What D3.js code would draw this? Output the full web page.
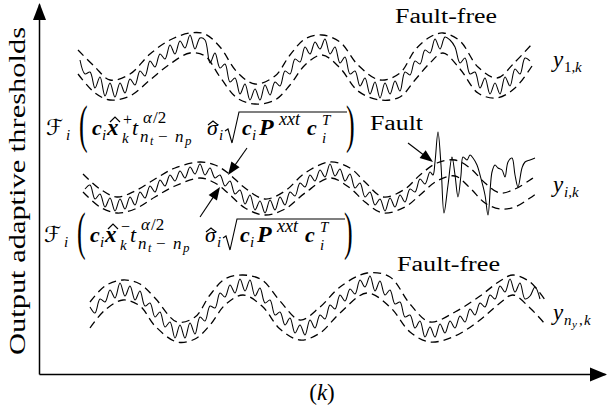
<!DOCTYPE html>
<html><head><meta charset="utf-8">
<script src="https://cdn.jsdelivr.net/npm/d3@7"></script>
<style>body{margin:0;background:#fff;} svg{display:block;}</style>
</head><body>
<svg id="chart" width="607" height="415"></svg>
<script>
// ---------- DATA (k = time index, values = output amplitude) ----------
const kStep = 5;
// y_{1,k} measured output (fault-free)
const topStartK = 41;
const topSignal = [314,300,302,286,297,278,291,277,291,281,
  295,289,303,298,313,307,320,315,329,320,
  333,326,339,325,336,334,311,321,306,310,
  292,296,280,290,274,285,274,289,279,292,
  288,303,300,315,312,327,320,332,325,335,
  320,327,311,317,300,303,288,296,280,292,
  276,291,280,293,283,302,299,313,310,324,
  321,335,325,337,334,327,311,316,300,302,
  286,296,280,291,280,297,288,305,300,316,
  313];
// adaptive thresholds for y_{1,k}
const topBandK = [39,56,71,91,111,131,151,166,181,198,216,236,251,266,283,301,319,341,361,376,391,404,421,439,458,476,493];
const topUpper = [324,307,294,300,320,334,341,340,327,302,290,298,319,335,339,332,309,294,301,324,337,341,333,307,296,312,330];
const topLower = [300,281,274,278,294,310,321,318,297,276,270,274,289,309,319,306,283,274,277,294,311,321,305,281,276,286,308];

// y_{i,k} measured output (fault appears near the end)
const midStartK = 46;
const midSignal = [185,189,175,180,167,176,163,175,165,177,
  169,182,176,188,182,194,188,199,193,203,
  196,207,200,210,199,206,196,199,188,193,
  180,184,170,179,164,173,161,174,164,177,
  169,182,178,191,187,199,193,204,197,210,
  198,205,193,200,186,191,177,182,169,175,
  163,176,167,179,172,185,182,195,190,202];
const faultK = [394,396,399,402,405,409,413,416,419,422,424,428,431,434,438,441,446,449,453,456,459,463,466,469,473,476,479,483,486,491,496];
const faultV = [199,212,242,209,161,189,217,199,177,199,217,214,219,216,209,199,179,159,202,209,206,204,197,212,216,199,187,206,212,214,216];
const midBandK = [44,61,78,96,116,136,161,176,189,206,226,246,266,291,311,326,344,366,381,398,416,431,446,461,476,491,498];
const midUpper = [200,185,177,183,195,206,212,209,201,186,175,183,201,212,206,192,177,185,199,211,214,206,191,181,185,194,199];
const midLower = [182,167,161,165,177,188,196,191,181,166,159,165,181,196,186,172,161,167,179,193,198,186,171,165,167,176,181];

// y_{ny,k} measured output (fault-free)
const botStartK = 51;
const botSignal = [67,61,75,72,84,76,91,78,88,74,
  83,68,71,57,62,47,52,36,49,36,
  51,40,57,53,68,66,81,77,89,81,
  95,83,94,78,86,71,74,59,62,49,
  56,41,49,39,54,46,59,55,69,65,
  79,73,85,80,94,87,98,83,93,79,
  84,70,72,57,59,46,53,37,47,37,
  50,41,53,46,58,52,65,59,71,67,
  79,75,88,82,95,82,91,75,78,87,
  75];
const botBandK = [51,66,84,101,116,138,156,171,186,204,223,241,261,281,301,328,351,371,391,416,441,461,474,491,506];
const botUpper = [72,88,94,90,76,52,57,79,95,99,94,73,54,67,87,101,97,70,52,62,78,93,99,92,74];
const botLower = [46,64,74,68,48,32,35,49,69,79,68,45,34,41,61,81,67,42,32,38,54,71,79,66,50];

// annotation arrows: [fromK, fromV, toK, toV]
const arrows = [[208,226,189,199],[161,157,181,187],[369,231,394,212]];

// ---------- DRAWING ----------
const svg = d3.select('#chart');
const FONT = "'Liberation Serif','DejaVu Serif',serif";
const x = d3.scaleLinear().domain([0,566]).range([39,605]);
const y = d3.scaleLinear().domain([0,370]).range([374,4]);

// axes (no ticks), with arrowheads
svg.append('g').attr('transform',`translate(0,${y(0)})`)
  .call(d3.axisBottom(x).tickValues([]).tickSizeOuter(0))
  .call(g=>g.select('.domain').attr('stroke','#000').attr('stroke-width',1.5));
svg.append('g').attr('transform',`translate(${x(0)},0)`)
  .call(d3.axisLeft(y).tickValues([]).tickSizeOuter(0))
  .call(g=>g.select('.domain').attr('stroke','#000').attr('stroke-width',1.5));
function head(tx,ty,fx,fy,len,hw){
  const a=Math.atan2(ty-fy,tx-fx), c=Math.cos(a), s=Math.sin(a);
  const bx=tx-len*c, by=ty-len*s;
  svg.append('path').attr('d',`M${tx},${ty}L${bx-hw*s},${by+hw*c}L${bx+hw*s},${by-hw*c}Z`).attr('fill','#000');
}
head(x(0)+0.5, 3, x(0)+0.5, 100, 17, 6.5);
head(607, y(0)+0.5, 500, y(0)+0.5, 17, 7);

const lineGen = d3.line().x(d=>x(d[0])).y(d=>y(d[1])).curve(d3.curveCatmullRom.alpha(0.5));
function series(start, vals){ return vals.map((v,i)=>[start+i*kStep, v]); }
function band(ks, vs){ return ks.map((k,i)=>[k, vs[i]]); }

const solids = [
  series(topStartK, topSignal),
  series(midStartK, midSignal).concat(faultK.map((k,i)=>[k, faultV[i]])),
  series(botStartK, botSignal)
];
const dashes = [band(topBandK, topUpper), band(topBandK, topLower),
  band(midBandK, midUpper), band(midBandK, midLower),
  band(botBandK, botUpper), band(botBandK, botLower)];

svg.append('g').selectAll('path').data(dashes).join('path')
  .attr('d', lineGen).attr('fill','none').attr('stroke','#000')
  .attr('stroke-width',1.3).attr('stroke-dasharray','8,5');
svg.append('g').selectAll('path').data(solids).join('path')
  .attr('d', lineGen).attr('fill','none').attr('stroke','#000')
  .attr('stroke-width',1.05).attr('stroke-linejoin','round');

// annotation arrows
arrows.forEach(a=>{
  const fx=x(a[0]), fy=y(a[1]), tx=x(a[2]), ty=y(a[3]);
  const ang=Math.atan2(ty-fy,tx-fx);
  svg.append('line').attr('x1',fx).attr('y1',fy)
    .attr('x2',tx-10*Math.cos(ang)).attr('y2',ty-10*Math.sin(ang))
    .attr('stroke','#000').attr('stroke-width',1.1);
  head(tx,ty,fx,fy,13,5);
});

// ---------- TEXT ----------
// one <text> per label; pieces placed as tspans [str, x, y, size, style, family]
function rich(pieces){
  const t = svg.append('text').attr('font-family',FONT);
  pieces.forEach(p=>{
    const s = t.append('tspan').attr('x',p[1]).attr('y',p[2]).attr('font-size',p[3]).text(p[0]);
    if(p[4]==='i'||p[4]==='b') s.attr('font-style','italic');
    if(p[4]==='b') s.attr('font-weight','bold');
    if(p[5]) s.attr('font-family',p[5]);
  });
  return t;
}
function plain(s, px, py, size, len){
  return svg.append('text').attr('x',px).attr('y',py).attr('font-size',size)
    .attr('font-family',FONT).attr('textLength',len).attr('lengthAdjust','spacingAndGlyphs').text(s);
}

// axis labels
svg.append('text').attr('transform','translate(25,191) rotate(-90)')
  .attr('text-anchor','middle').attr('font-family',FONT).attr('font-size',24)
  .attr('textLength',328).attr('lengthAdjust','spacingAndGlyphs')
  .text('Output adaptive thresholds');
const kl = svg.append('text').attr('x',322).attr('y',400).attr('text-anchor','middle')
  .attr('font-family',FONT).attr('font-size',23);
kl.append('tspan').text('(');
kl.append('tspan').attr('font-style','italic').text('k');
kl.append('tspan').text(')');

// annotations
plain('Fault-free', 395, 23, 20, 102);
plain('Fault-free', 397, 271, 20, 103);
plain('Fault', 370, 130, 20, 53);

// output names
rich([['y',553,67,23,'i'],['1,',564,72,15,'r'],['k',575,72,15,'i']]);
rich([['y',553,192,23,'i'],['i,',564,197,15,'i'],['k',572,197,15,'i']]);
rich([['y',553,320,23,'i'],['n',564,325,15,'i'],['y',572,328,11,'i'],[',',579,325,15,'r'],['k',584,325,15,'i']]);

// threshold formulas
function formula(dx, y0, sign){
  const P = [
    ['ℱ',46,0,22,'i',"'DejaVu Serif','DejaVu Sans',serif"],
    ['i',66,5,15,'i'],
    ['c',92,0,22,'b'],['i',102,5,15,'i'],
    ['x',107,0,23,'b'],
    [sign,123,-10,16,'r'],['k',122,8,15,'i'],
    ['t',132,0,22,'i'],
    ['α',143,-12,17,'i'],['/2',153,-12,17,'r'],
    ['n',140,7,17,'i'],['t',150,10,12,'i'],['−',158,7,17,'r'],['n',175,7,17,'i'],['p',185,10,13,'i'],
    ['σ',207,0,22,'i'],['i',219,5,15,'i'],
    ['c',242,0,22,'b'],['i',252,5,15,'i'],
    ['P',259,0,24,'b'],
    ['xxt',279,-10,18,'i'],
    ['c',307,0,22,'b'],['T',322,-10,15,'i'],['i',322,8,15,'i']
  ];
  rich(P.map(p=>[p[0], p[1]+dx, y0+p[2], p[3], p[4], p[5]]));
  // hat accents over x and sigma
  [[115,-13,-18],[213,-10,-14]].forEach(h=>{
    svg.append('path').attr('d',`M${h[0]-5+dx},${y0+h[1]}L${h[0]+dx},${y0+h[2]}L${h[0]+5+dx},${y0+h[1]}`)
      .attr('fill','none').attr('stroke','#000').attr('stroke-width',1.2);
  });
  svg.append('text').attr('transform',`translate(${79+dx},${y0+7}) scale(1,2)`)
    .attr('font-family',FONT).attr('font-size',26).text('(');
  svg.append('text').attr('transform',`translate(${346+dx},${y0+7}) scale(1,2)`)
    .attr('font-family',FONT).attr('font-size',26).text(')');
  svg.append('path')
    .attr('d',`M${225+dx},${y0-4}L${228+dx},${y0-6}L${232+dx},${y0+8}L${239+dx},${y0-23}L${347+dx},${y0-23}`)
    .attr('fill','none').attr('stroke','#000').attr('stroke-width',1.1);
}
formula(0, 135, '+');
formula(-2, 242, '−');
</script>
</body></html>
